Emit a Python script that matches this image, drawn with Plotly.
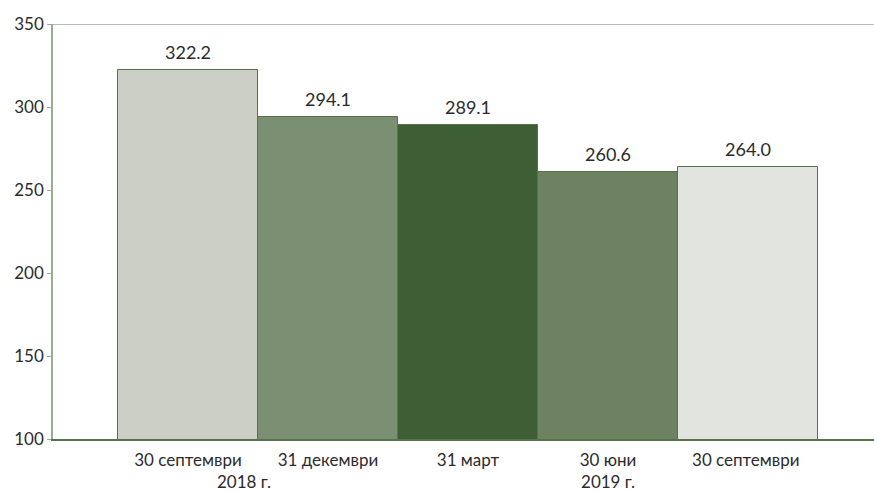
import plotly.graph_objects as go

categories = ["30 септември", "31 декември", "31 март", "30 юни<br>2019 г.", "30 септември "]
values = [322.2, 294.1, 289.1, 260.6, 264.0]
value_labels = ["322.2", "294.1", "289.1", "260.6", "264.0"]
bar_colors = ["#cbcfc6", "#7b8f72", "#3e5e35", "#6d8260", "#e2e5df"]
y_ticks = [100, 150, 200, 250, 300, 350]

FONT = "Lato"
TXT = "#2b2b2b"
fig = go.Figure(go.Bar(
    x=list(range(len(categories))),
    y=values,
    base=0,
    marker=dict(color=bar_colors, line=dict(color="#56734b", width=1)),
    width=1.0,
))

for i, (v, lab) in enumerate(zip(values, value_labels)):
    fig.add_annotation(x=i, y=v, xref="x", yref="y", text=lab, showarrow=False,
                       yanchor="bottom", yshift=5,
                       font=dict(family=FONT, size=18, color=TXT))

fig.update_layout(
    width=874, height=491,
    margin=dict(l=53, r=0, t=24, b=52),
    paper_bgcolor="white", plot_bgcolor="white",
    showlegend=False,
    bargap=0,
    font=dict(family=FONT, size=17, color=TXT),
)
fig.update_xaxes(
    range=[-0.964, 4.9], automargin=False,
    tickmode="array", tickvals=list(range(len(categories))), ticktext=categories,
    showline=True, linecolor="#56734b", linewidth=1.5,
    showgrid=False, ticks="", zeroline=False, ticklabelstandoff=5,
    tickfont=dict(family=FONT, size=17, color=TXT),
)
fig.update_yaxes(
    range=[100, 350], automargin=False,
    tickvals=y_ticks,
    showline=True, linecolor="#9aab94", linewidth=1.5,
    ticks="outside", ticklen=4, tickcolor="#9aab94",
    showgrid=False, zeroline=False,
    tickfont=dict(family=FONT, size=17, color=TXT),
)
fig.add_shape(type="line", xref="paper", yref="y", x0=0, x1=1, y0=350, y1=350,
              line=dict(color="#9aab94", width=1.5))
fig.add_annotation(x=0.4, y=0, xref="x", yref="paper", yshift=-42, text="2018 г.",
                   showarrow=False, font=dict(family=FONT, size=17, color=TXT),
                   yanchor="middle")

fig.write_html("out.html", config={"displayModeBar": False},
               post_script="document.body.style.margin='0';document.body.style.overflow='hidden';")
